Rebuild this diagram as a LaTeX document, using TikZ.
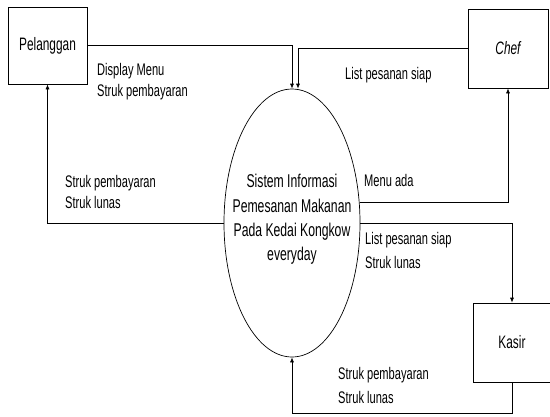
\documentclass[tikz,border=0pt]{standalone}
\usepackage{fontspec}
\setmainfont{Liberation Sans}[FakeStretch=0.66]
\usetikzlibrary{arrows.meta,shapes.geometric}
\begin{document}
\begin{tikzpicture}[x=1pt,y=-1pt,
  entity/.style={draw, line width=0.7pt, inner sep=0pt, font=\fontsize{18}{21}\selectfont},
  flow/.style={draw, line width=0.7pt, -{Latex[length=5pt,width=4pt]}},
  lbl/.style={anchor=west, inner sep=0pt, align=left, font=\fontsize{16.8}{20.5}\selectfont},
]
\useasboundingbox (0,0) rectangle (550,416);
\node[entity, minimum width=79pt, minimum height=77pt] (pel) at (47.5,45.5) {Pelanggan};
\node[entity, minimum width=80pt, minimum height=79pt] (chef) at (508,48.5) {\itshape Chef};
\node[entity, minimum width=78pt, minimum height=79pt] (kasir) at (512,342.5) {Kasir};
\node[ellipse, draw, line width=0.7pt, minimum width=136pt, minimum height=268pt, inner sep=0pt] (sys) at (292,223) {};
\node[align=center, inner sep=0pt, font=\fontsize{18.5}{24.3}\selectfont] (systext) at (292,219.5) {Sistem Informasi\\Pemesanan Makanan\\Pada Kedai Kongkow\\everyday};

\draw[flow] (pel.east) -| (sys.north);
\draw[flow] (chef.west) -| ([xshift=6pt]sys.north);
\draw[flow] (sys.west) -| (pel.south);
\draw[flow] (sys.17) -| (chef.south);
\draw[flow] (sys.east) -| (kasir.north);
\draw[flow] (kasir.south) -- ++(0,31) -| (sys.south);

\node[lbl] (l1) at (97,81.5) {Display Menu\\Struk pembayaran};
\node[lbl] (l2) at (345,75) {List pesanan siap};
\node[lbl] (l3) at (65,192) {Struk pembayaran\\Struk lunas};
\node[lbl] (l4) at (364,180) {Menu ada};
\node[lbl] (l5) at (365,250) {List pesanan siap\\[3.5pt]Struk lunas};
\node[lbl] (l6) at (338,385) {Struk pembayaran\\[3.5pt]Struk lunas};
\end{tikzpicture}
\end{document}
